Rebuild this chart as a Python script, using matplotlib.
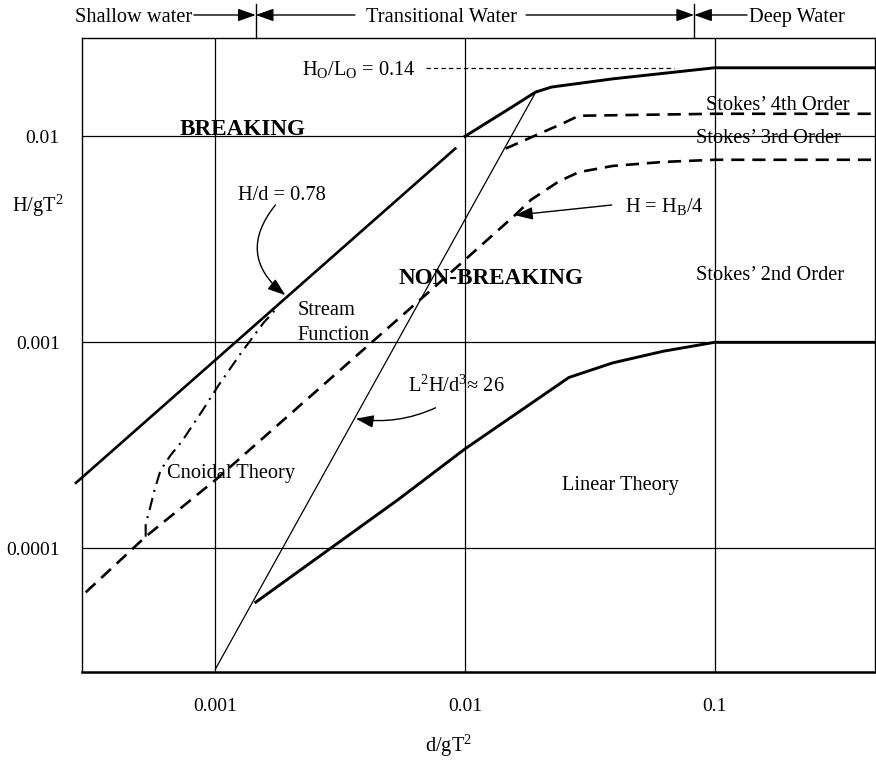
import matplotlib
matplotlib.use("Agg")
import matplotlib.pyplot as plt
from matplotlib.ticker import NullLocator

plt.rcParams['font.family'] = ['Liberation Serif', 'DejaVu Serif']
plt.rcParams['mathtext.fontset'] = 'custom'
plt.rcParams['mathtext.rm'] = 'Liberation Serif'
plt.rcParams['mathtext.it'] = 'Liberation Serif:italic'
plt.rcParams['mathtext.bf'] = 'Liberation Serif:bold'
plt.rcParams['mathtext.default'] = 'regular'

# d/gT^2 -> H/gT^2 curves of the wave theory chart
breaking_x = [2.76e-4, 9.14e-3]           # H/d = 0.78
breaking_y = [2.08e-4, 8.72e-3]

limit_x = [0.01, 0.01528, 0.01914, 0.02223, 0.0391, 0.1, 0.5]   # H0/L0 = 0.14
limit_y = [0.01, 0.01377, 0.01637, 0.01734, 0.019, 0.0215, 0.0215]

stokes4_x = [0.01456, 0.0249, 0.0286, 0.1, 0.5]
stokes4_y = [8.72e-3, 0.01161, 0.01258, 0.01286, 0.01286]

stokes3_x = [3.02e-4, 5.25e-4, 1e-3, 7.55e-3, 0.01585, 0.0184, 0.02377,
             0.0286, 0.0391, 0.0625, 0.1, 0.5]          # H = HB/4
stokes3_y = [6.12e-5, 1.14e-4, 2.15e-4, 1.857e-3, 4.14e-3, 4.92e-3, 6.04e-3,
             6.70e-3, 7.18e-3, 7.51e-3, 7.69e-3, 7.69e-3]

stream_x = [5.25e-4, 5.25e-4, 5.45e-4, 5.70e-4, 6.02e-4, 6.59e-4, 7.35e-4,
            8.81e-4, 1.028e-3, 1.265e-3, 1.559e-3, 1.77e-3]
stream_y = [1.14e-4, 1.312e-4, 1.549e-4, 1.924e-4, 2.39e-4, 2.82e-4, 3.32e-4,
            4.61e-4, 6.18e-4, 8.87e-4, 1.245e-3, 1.476e-3]

linear_x = [1.45e-3, 5.4e-3, 0.01, 0.02377, 0.02606, 0.0391, 0.0625, 0.1, 0.5]
linear_y = [5.48e-5, 1.726e-4, 3.04e-4, 6.25e-4, 6.75e-4, 7.95e-4, 9.06e-4,
            1e-3, 1e-3]

ursell_x = [1e-3, 0.0193]                 # L^2H/d^3 = 26
ursell_y = [2.6e-5, 0.01656]

steep_level = 0.0215
steep_x = [6.97e-3, 0.0687]

shallow_limit = 1.45e-3
deep_limit = 0.0828

xticks = [1e-3, 1e-2, 1e-1]
xtick_labels = ['0.001', '0.01', '0.1']
yticks = [1e-4, 1e-3, 1e-2]
ytick_labels = ['0.0001', '0.001', '0.01']

fig = plt.figure(figsize=(8.76, 7.61), dpi=100)
ax = fig.add_axes([82 / 876, 1 - 672 / 761, 793 / 876, 634 / 761])
ax.set_xscale('log')
ax.set_yscale('log')
ax.set_xlim(10 ** -3.535, 10 ** -0.357)
ax.set_ylim(10 ** -4.600, 10 ** -1.523)

ax.set_xticks(xticks)
ax.set_xticklabels(xtick_labels)
ax.set_yticks(yticks)
ax.set_yticklabels(ytick_labels)
ax.xaxis.set_minor_locator(NullLocator())
ax.yaxis.set_minor_locator(NullLocator())
ax.tick_params(axis='x', length=0, pad=19, labelsize=14)
ax.tick_params(axis='y', length=0, pad=16, labelsize=14)
ax.grid(True, which='major', color='black', lw=0.9)
ax.set_axisbelow(True)
for side in ['left', 'right', 'top']:
    ax.spines[side].set_linewidth(1.0)
ax.spines['bottom'].set_linewidth(1.8)

fs = 14.7
thick = 1.9

ax.plot(breaking_x, breaking_y, color='k', lw=thick, clip_on=False)
ax.plot(limit_x, limit_y, color='k', lw=2.1)
ax.plot(stokes4_x, stokes4_y, color='k', lw=thick, ls=(0, (5, 3)))
ax.plot(stokes3_x, stokes3_y, color='k', lw=thick, ls=(0, (5, 3)))
ax.plot(stream_x, stream_y, color='k', lw=1.5, ls=(0, (6, 3, 1, 3)))
ax.plot(linear_x, linear_y, color='k', lw=2.1)
ax.plot(ursell_x, ursell_y, color='k', lw=0.9)
ax.plot(steep_x, [steep_level, steep_level], color='k', lw=0.9, ls=(0, (3.5, 2.5)))

# region and curve labels
ax.text(7.15e-4, 0.0102, 'BREAKING', fontsize=16.7, fontweight='bold', va='baseline')
ax.text(5.4e-3, 1.923e-3, 'NON-BREAKING', fontsize=16.7, fontweight='bold', va='baseline')
ax.text(1.232e-3, 4.92e-3, 'H/d = 0.78', fontsize=fs, va='baseline')
ax.text(2.14e-3, 1.361e-3, 'Stream', fontsize=fs, va='baseline')
ax.text(2.14e-3, 1.023e-3, 'Function', fontsize=fs, va='baseline')
ax.text(6.41e-4, 2.19e-4, 'Cnoidal Theory', fontsize=fs, va='baseline')
ax.text(0.0244, 1.92e-4, 'Linear Theory', fontsize=fs, va='baseline')
ax.text(0.0845, 2.01e-3, 'Stokes\u2019 2nd Order', fontsize=fs, va='baseline')
ax.text(0.0845, 9.23e-3, 'Stokes\u2019 3rd Order', fontsize=fs, va='baseline')
ax.text(0.0927, 0.01346, 'Stokes\u2019 4th Order', fontsize=fs, va='baseline')
ax.text(6.35e-3, 0.0199, r'H$_\mathrm{O}$/L$_\mathrm{O}$ = 0.14', fontsize=fs,
        va='baseline', ha='right')
ax.text(0.0437, 4.28e-3, r'H = H$_\mathrm{B}$/4', fontsize=fs, va='baseline')
ax.text(5.91e-3, 5.73e-4, 'L$^2$H/d$^3$\u2248 26', fontsize=fs, va='baseline')

head = '-|>,head_length=0.9,head_width=0.32'
ax.annotate('', xy=(1.905e-3, 1.694e-3), xytext=(1.738e-3, 4.64e-3),
            arrowprops=dict(arrowstyle=head, color='k', lw=1.0, mutation_scale=12,
                            shrinkA=0, shrinkB=0, connectionstyle='arc3,rad=0.5'))
ax.annotate('', xy=(3.65e-3, 4.26e-4), xytext=(7.62e-3, 4.81e-4),
            arrowprops=dict(arrowstyle=head, color='k', lw=1.0, mutation_scale=12,
                            shrinkA=0, shrinkB=0, connectionstyle='arc3,rad=-0.15'))
ax.annotate('', xy=(0.01585, 4.14e-3), xytext=(0.0387, 4.64e-3),
            arrowprops=dict(arrowstyle=head, color='k', lw=1.0, mutation_scale=12,
                            shrinkA=0, shrinkB=0))

# water depth zones above the frame
tr = ax.get_xaxis_transform()
row_y = 1.0363
text_y = 1.0252
for xb in [shallow_limit, deep_limit]:
    ax.plot([xb, xb], [1.0, 1.0536], color='k', lw=1.0, transform=tr, clip_on=False)

ax.text(8.05e-4, text_y, 'Shallow water', fontsize=fs, ha='right', va='baseline',
        transform=tr)
ax.text(4.0e-3, text_y, 'Transitional Water', fontsize=fs, ha='left', va='baseline',
        transform=tr)
ax.text(0.1377, text_y, 'Deep Water', fontsize=fs, ha='left', va='baseline',
        transform=tr)

zone_arrows = [(8.19e-4, shallow_limit), (3.62e-3, shallow_limit),
               (0.01757, deep_limit), (0.135, deep_limit)]
for tail, tip in zone_arrows:
    ax.annotate('', xy=(tip, row_y), xytext=(tail, row_y), xycoords=tr,
                annotation_clip=False,
                arrowprops=dict(arrowstyle=head, color='k', lw=1.0, mutation_scale=12,
                                shrinkA=0, shrinkB=0))

# axis titles
ax.text(8.57e-3, -0.126, r'd/gT$^2$', fontsize=fs, ha='center', va='baseline',
        transform=tr)
ax.text(-0.0555, 4.28e-3, r'H/gT$^2$', fontsize=fs, ha='center', va='baseline',
        transform=ax.get_yaxis_transform())

fig.savefig('out.png', dpi=100, facecolor='white')
